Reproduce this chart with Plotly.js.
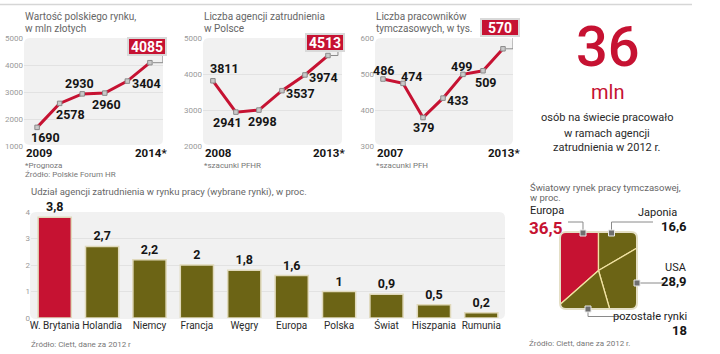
<!DOCTYPE html>
<html><head><meta charset="utf-8">
<script src="https://cdn.plot.ly/plotly-3.0.1.min.js"></script>
<style>html,body{margin:0;padding:0;background:#fff}</style>
</head><body><div id="chart" style="width:720px;height:354px"></div>
<script>
// ---------- DATA ----------
const marketYears = [2009, 2010, 2011, 2012, 2013, 2014];
const marketValues = [1690, 2578, 2930, 2960, 3404, 4085];
const agencyYears = [2008, 2009, 2010, 2011, 2012, 2013];
const agencyValues = [3811, 2941, 2998, 3537, 3974, 4513];
const workerYears = [2007, 2008, 2009, 2010, 2011, 2012, 2013];
const workerValues = [486, 474, 379, 433, 499, 509, 570];
const shareCountries = ['W. Brytania', 'Holandia', 'Niemcy', 'Francja', 'Węgry', 'Europa', 'Polska', 'Świat', 'Hiszpania', 'Rumunia'];
const shareValues = [3.8, 2.7, 2.2, 2, 1.8, 1.6, 1, 0.9, 0.5, 0.2];
const worldRegions = ['Europa', 'Japonia', 'USA', 'pozostałe rynki'];
const worldShares = [36.5, 16.6, 28.9, 18];

// ---------- STYLE ----------
const W = 720, H = 354;
const px = x => x / W, py = y => 1 - y / H;
const RED = '#c61232', OLIVE = '#6c6415', SEP = '#f1e2a2';
const FN = 'Roboto,"Liberation Sans",sans-serif';
const FR = 'Roboto,"Open Sans",sans-serif';

const traces = [], annotations = [], shapes = [];
const layout = {
  width: W, height: H, margin: {l: 0, r: 0, t: 0, b: 0}, autosize: false,
  paper_bgcolor: '#fff', plot_bgcolor: 'rgba(0,0,0,0)', showlegend: false
};

function txt(x, y, text, size, color, o) {
  o = o || {};
  annotations.push({xref: 'paper', yref: 'paper', x: px(x), y: py(y), text: text, showarrow: false,
    xanchor: o.xa || 'left', yanchor: 'middle', align: o.xa || 'left',
    font: {family: o.f || FN, size: size, color: color, weight: o.w || 'normal'}});
}
function roundRect(x0, y0, x1, y1, r, fill, line, lw, layer) {
  const P = (x, y) => px(x).toFixed(5) + ',' + py(y).toFixed(5);
  const path = 'M' + P(x0 + r, y0) + ' L' + P(x1 - r, y0) + ' Q' + P(x1, y0) + ' ' + P(x1, y0 + r) +
    ' L' + P(x1, y1 - r) + ' Q' + P(x1, y1) + ' ' + P(x1 - r, y1) +
    ' L' + P(x0 + r, y1) + ' Q' + P(x0, y1) + ' ' + P(x0, y1 - r) +
    ' L' + P(x0, y0 + r) + ' Q' + P(x0, y0) + ' ' + P(x0 + r, y0) + ' Z';
  shapes.push({type: 'path', xref: 'paper', yref: 'paper', path: path, fillcolor: fill,
    line: {color: line || 'rgba(0,0,0,0)', width: lw || 0}, layer: layer || 'below'});
}
function pline(pts, color, w) {
  const path = pts.map((p, i) => (i ? 'L' : 'M') + px(p[0]).toFixed(5) + ',' + py(p[1]).toFixed(5)).join(' ');
  shapes.push({type: 'path', xref: 'paper', yref: 'paper', path: path, line: {color: color, width: w}, layer: 'above'});
}

// top rule
pline([[0, 4.5], [692, 4.5]], '#d6d6d6', 1.5);

// ---------- LINE CHARTS ----------
const lineCharts = [
  {years: marketYears, vals: marketValues, ax: '', dom: [24, 163], xr: [2008.42, 2014.58], yr: [1000, 5000], dtick: 1000,
   xt: ['2009', '2014*'], offs: [[8, -10], [11, -11], [-3, 10], [2, -11], [19, -2]], box: [-2.5, 16], conn: 'M 3 0 L 13 0 L 13 8'},
  {years: agencyYears, vals: agencyValues, ax: '2', dom: [203, 342], xr: [2007.57, 2013.61], yr: [2000, 5000], dtick: 1000,
   xt: ['2008', '2013*'], offs: [[12, 12], [-8, -10], [4, -11], [19, -3], [19, -2.5]], box: [-2.5, 13.5], conn: 'M 3 0 L 10 0 L 10 5'},
  {years: workerYears, vals: workerValues, ax: '3', dom: [375, 513], xr: [2006.6, 2013.5], yr: [300, 600], dtick: 100,
   xt: ['2007', '2013*'], offs: [[1, 9], [9, 7], [1, -10], [15, -2], [-1, 8], [3, -12]], box: [-3, 21.5], conn: 'M 3 0 L 10 0 L 10 13'}
];
lineCharts.forEach(c => {
  const xa = 'x' + c.ax, ya = 'y' + c.ax;
  const n = c.years.length;
  roundRect(c.dom[0], 38, c.dom[1], 145, 6, '#f1f1f1');
  layout['xaxis' + c.ax] = {domain: [px(c.dom[0]), px(c.dom[1])], range: c.xr, anchor: ya,
    showticklabels: false, ticks: '', showgrid: false, zeroline: false, showline: false, fixedrange: true};
  layout['yaxis' + c.ax] = {domain: [py(146), py(38)], range: c.yr, anchor: xa, dtick: c.dtick, tick0: c.yr[0],
    ticks: '', showgrid: true, gridcolor: '#e2e2e2', gridwidth: 1, zeroline: false, showline: false,
    tickfont: {family: FR, size: 8, color: '#9a9a9a'}, fixedrange: true};
  // first / last year labels
  annotations.push({xref: 'paper', yref: 'paper', x: px(c.dom[0]), y: py(152.5), text: c.xt[0], showarrow: false,
    xanchor: 'left', yanchor: 'middle', font: {family: FN, size: 11.5, color: '#151515', weight: 'bold'}});
  annotations.push({xref: xa, yref: 'paper', x: c.years[n - 1], y: py(152.5), text: c.xt[1], showarrow: false,
    xanchor: 'center', xshift: 1, yanchor: 'middle', font: {family: FN, size: 11.5, color: '#151515', weight: 'bold'}});
  traces.push({type: 'scatter', mode: 'lines+markers', x: c.years, y: c.vals, xaxis: xa, yaxis: ya,
    line: {color: RED, width: 3}, marker: {symbol: 'square', size: 4.5, color: '#c9c9c9', line: {color: '#8a8a8a', width: 1}},
    hoverinfo: 'skip', cliponaxis: false});
  c.vals.forEach((v, i) => {
    if (i < n - 1) {
      annotations.push({xref: xa, yref: ya, x: c.years[i], y: v, text: String(v), showarrow: false,
        xanchor: 'center', yanchor: 'middle', xshift: c.offs[i][0], yshift: c.offs[i][1],
        font: {family: FN, size: 12.5, color: '#151515', weight: 'bold'}});
    } else {
      annotations.push({xref: xa, yref: ya, x: c.years[i], y: v, text: String(v), showarrow: false,
        xanchor: 'center', yanchor: 'middle', xshift: c.box[0], yshift: c.box[1], width: 34, height: 13,
        bgcolor: RED, bordercolor: '#d9d9d9', borderwidth: 2, borderpad: 1,
        font: {family: FN, size: 14, color: '#fff', weight: 'bold'}});
      shapes.push({type: 'path', xref: xa, yref: ya, xsizemode: 'pixel', ysizemode: 'pixel',
        xanchor: c.years[i], yanchor: v, path: c.conn, line: {color: '#8a8a8a', width: 1}, layer: 'above'});
    }
  });
});

// titles and notes of line charts
txt(23, 17, 'Wartość polskiego rynku,', 10, '#666');
txt(23, 29, 'w mln złotych', 10, '#666');
txt(202, 17, 'Liczba agencji zatrudnienia', 10, '#666');
txt(202, 29, 'w Polsce', 10, '#666');
txt(374, 17, 'Liczba pracowników', 10, '#666');
txt(374, 29, 'tymczasowych, w tys.', 10, '#666');
txt(23, 165, '*Prognoza', 8, '#777');
txt(23, 175, 'Źródło: Polskie Forum HR', 8, '#777');
txt(202, 165, '*szacunki PFHR', 8, '#777');
txt(374, 165, '*szacunki PFH', 8, '#777');

// right panel
txt(608, 47, '36', 56, RED, {xa: 'center', f: FR, w: 500});
txt(607, 92, 'mln', 20, RED, {xa: 'center', f: FR});
txt(607, 118, 'osób na świecie pracowało', 11, '#2a2a2a', {xa: 'center'});
txt(607, 133, 'w ramach agencji', 11, '#2a2a2a', {xa: 'center'});
txt(607, 148, 'zatrudnienia w 2012 r.', 11, '#2a2a2a', {xa: 'center'});

// ---------- BAR CHART ----------
roundRect(30, 212, 505, 319, 6, '#f1f1f1');
layout.xaxis4 = {domain: [px(31), px(505)], range: [-0.5, 9.5], anchor: 'y4', ticks: '', showgrid: false, zeroline: false,
  tickangle: 0, tickfont: {family: FN, size: 10, color: '#2a2a2a'}, fixedrange: true};
layout.yaxis4 = {domain: [py(318), py(212)], range: [0, 4], dtick: 1, anchor: 'x4', ticks: '', showgrid: true,
  gridcolor: '#e2e2e2', zeroline: false, tickfont: {family: FR, size: 8, color: '#9a9a9a'}, fixedrange: true};
traces.push({type: 'bar', x: shareCountries, y: shareValues, xaxis: 'x4', yaxis: 'y4',
  marker: {color: shareValues.map((v, i) => i === 0 ? RED : OLIVE), line: {color: '#e0d9bb', width: 1.5}},
  text: shareValues.map(v => String(v).replace('.', ',')), textposition: 'outside', cliponaxis: false,
  textfont: {family: FN, size: 12.5, color: '#151515', weight: 'bold'}, hoverinfo: 'skip'});
layout.bargap = 0.3;
txt(29, 192, 'Udział agencji zatrudnienia w rynku pracy (wybrane rynki), w proc.', 9.5, '#666');
txt(29, 344, 'Źródło: Ciett, dane za 2012 r', 8, '#777');

// ---------- SQUARE "PIE" ----------
const U = 38.5, CX = 598.5, CY = 270.5;
layout.xaxis5 = {domain: [px(CX - 1.1 * U), px(CX + 1.1 * U)], range: [-1.1, 1.1], visible: false, anchor: 'y5', fixedrange: true};
layout.yaxis5 = {domain: [py(CY + 1.1 * U), py(CY - 1.1 * U)], range: [-1.1, 1.1], visible: false, anchor: 'x5', fixedrange: true};
function squarePoint(deg) {
  const t = deg * Math.PI / 180, dx = Math.sin(t), dy = Math.cos(t);
  const s = 1 / Math.max(Math.abs(dx), Math.abs(dy));
  return [dx * s, dy * s];
}
const total = worldShares.reduce((a, b) => a + b, 0);
let start = -worldShares[0] / total * 360;
worldShares.forEach((v, i) => {
  const end = start + v / total * 360;
  const angs = [start];
  for (let c = -315; c <= 405; c += 90) if (c > start && c < end) angs.push(c);
  angs.push(end);
  const xs = [0], ys = [0];
  angs.forEach(d => { const p = squarePoint(d); xs.push(p[0]); ys.push(p[1]); });
  xs.push(0); ys.push(0);
  traces.push({type: 'scatter', mode: 'lines', x: xs, y: ys, xaxis: 'x5', yaxis: 'y5', fill: 'toself',
    fillcolor: i === 0 ? RED : OLIVE, line: {color: SEP, width: 1.3}, hoverinfo: 'skip', name: worldRegions[i]});
  start = end;
});
// rounded corners mask + frame
const r = 6 / U, e = 0.08;
[[-1, 1], [1, 1], [1, -1], [-1, -1]].forEach(([sx, sy]) => {
  const cx = sx, cy = sy;
  const path = `M ${cx + sx * e},${cy + sy * e} L ${cx - sx * r},${cy + sy * e} L ${cx - sx * r},${cy} Q ${cx},${cy} ${cx},${cy - sy * r} L ${cx + sx * e},${cy - sy * r} Z`;
  shapes.push({type: 'path', xref: 'x5', yref: 'y5', path: path, fillcolor: '#fff', line: {width: 0}, layer: 'above'});
});
shapes.push({type: 'path', xref: 'x5', yref: 'y5', layer: 'above', line: {color: '#e4dfc6', width: 2},
  path: `M ${-1 + r},1 L ${1 - r},1 Q 1,1 1,${1 - r} L 1,${-1 + r} Q 1,-1 ${1 - r},-1 L ${-1 + r},-1 Q -1,-1 -1,${-1 + r} L -1,${1 - r} Q -1,1 ${-1 + r},1 Z`});
// callouts
pline([[568, 222], [583, 222], [583, 233]], '#8a8a8a', 1);
pline([[653, 222], [611.5, 222], [611.5, 233]], '#8a8a8a', 1);
pline([[637, 283], [665, 283]], '#8a8a8a', 1);
pline([[588, 309], [588, 316.5], [621, 316.5]], '#8a8a8a', 1);
[[583, 233], [611.5, 233], [637, 283], [588, 309]].forEach(([x, y]) => {
  shapes.push({type: 'rect', xref: 'paper', yref: 'paper', x0: px(x - 3), x1: px(x + 3), y0: py(y + 3), y1: py(y - 3),
    fillcolor: '#6f6f6f', line: {color: '#e8e8e8', width: 1}, layer: 'above'});
});
txt(528, 187, 'Światowy rynek pracy tymczasowej,', 9.5, '#666');
txt(528, 198, 'w proc.', 9.5, '#666');
txt(528, 210.5, worldRegions[0], 11, '#222');
txt(527, 228, String(worldShares[0]).replace('.', ','), 17, RED, {w: 'bold'});
txt(679, 213, worldRegions[1], 11, '#222', {xa: 'right'});
txt(689, 226, String(worldShares[1]).replace('.', ','), 13, '#151515', {xa: 'right', w: 'bold'});
txt(689, 267, worldRegions[2], 11, '#222', {xa: 'right'});
txt(689, 281, String(worldShares[2]).replace('.', ','), 13, '#151515', {xa: 'right', w: 'bold'});
txt(689, 316, worldRegions[3], 11, '#222', {xa: 'right'});
txt(689, 330, String(worldShares[3]).replace('.', ','), 13, '#151515', {xa: 'right', w: 'bold'});
txt(527, 343, 'Źródło: Ciett, dane za 2012 r.', 8, '#777');

layout.annotations = annotations;
layout.shapes = shapes;
Plotly.newPlot('chart', traces, layout, {staticPlot: true, displayModeBar: false});
</script></body></html>
